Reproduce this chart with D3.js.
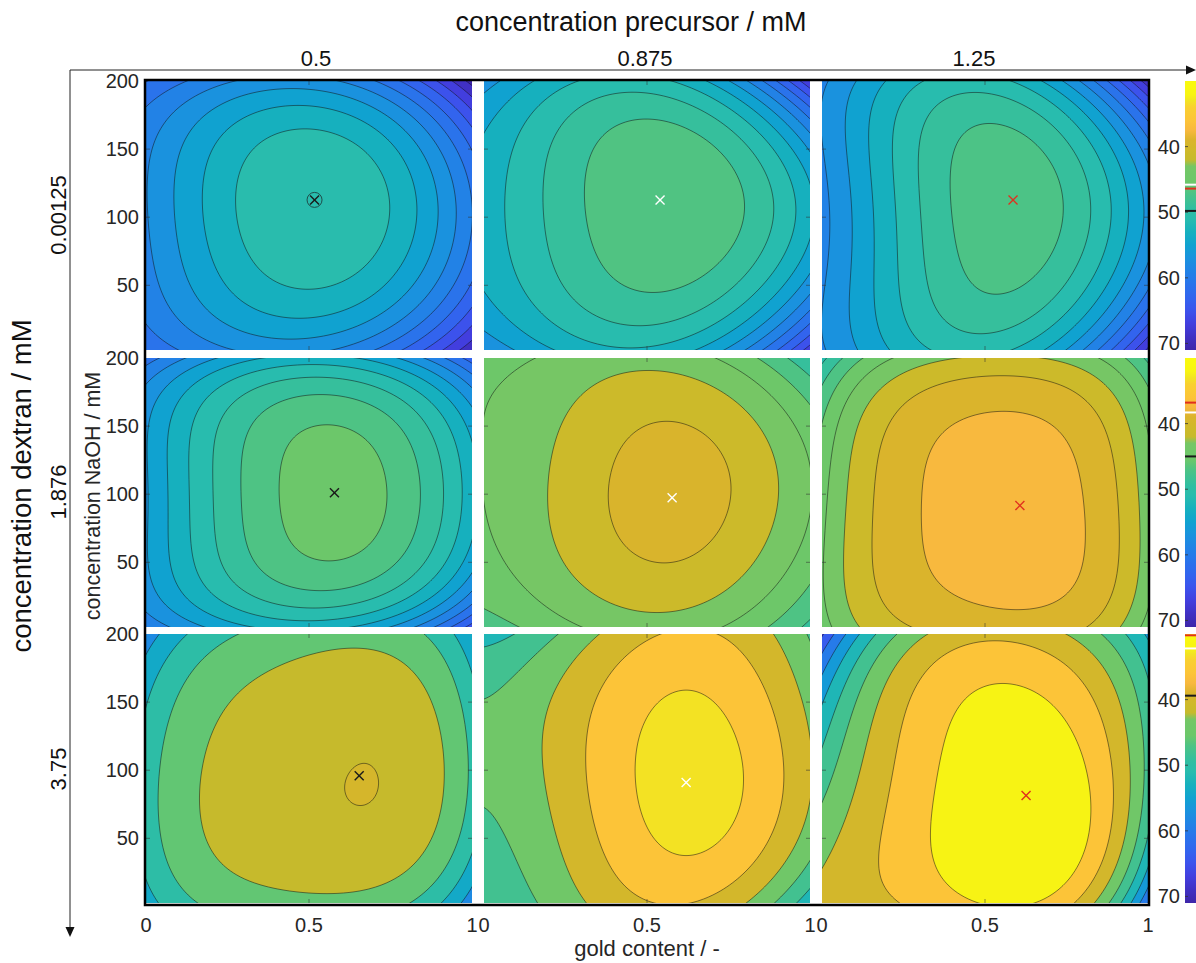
<!DOCTYPE html>
<html><head><meta charset="utf-8">
<script src="https://cdn.jsdelivr.net/npm/d3@7"></script>
<style>body{margin:0;background:#fff} svg{display:block} text{font-family:"Liberation Sans",Arial,sans-serif}</style>
</head><body><svg id="c" width="1196" height="963"></svg>
<script>
// ---------------- data ----------------
const precursorLabels = ["0.5", "0.875", "1.25"];
const dextranLabels = ["0.00125", "1.876", "3.75"];
const goldNodes = [0, 0.25, 0.5, 0.75, 1];
const naohNodes = [0, 50, 100, 150, 200];
// particle size; rows = naohNodes, columns = goldNodes
const size_r1c1 = [[61.5,59.0,57.4,62.0,70.0],[59.0,53.8,51.9,54.0,62.5],[58.2,52.2,50.0,52.1,59.8],[58.5,52.9,51.0,53.7,62.0],[62.0,58.5,57.1,61.0,71.0]];
const size_r1c2 = [[58.0,54.0,52.5,57.0,68.0],[54.0,49.6,48.7,49.2,56.5],[53.0,48.7,45.9,47.6,54.5],[53.5,49.5,47.4,48.6,55.5],[57.0,52.5,51.0,56.0,68.0]];
const size_r1c3 = [[58.5,53.0,51.5,57.0,69.0],[58.2,51.9,48.2,49.6,59.5],[58.3,51.4,46.8,48.1,57.0],[58.2,51.5,47.0,49.2,59.0],[58.5,52.7,51.0,57.0,69.0]];
const size_r2c1 = [[60.0,55.5,53.5,57.0,66.0],[56.2,49.6,47.0,47.5,54.5],[56.0,48.6,44.5,45.9,54.0],[56.5,49.7,46.0,47.2,54.5],[61.0,55.5,53.0,56.0,63.0]];
const size_r2c2 = [[47.5,44.0,43.8,44.0,49.0],[44.3,41.8,41.1,41.0,44.6],[44.0,42.4,39.3,41.4,44.5],[43.8,41.7,40.5,41.2,44.3],[44.5,43.0,43.3,44.0,50.0]];
const size_r2c3 = [[45.0,40.0,39.8,39.5,45.0],[44.5,38.9,36.5,37.6,43.0],[44.5,39.0,36.3,37.2,44.0],[45.5,39.5,38.1,39.2,43.0],[51.0,43.0,42.0,42.0,49.0]];
const size_r3c1 = [[55.0,46.0,45.0,48.0,59.0],[49.5,42.8,41.8,41.3,51.0],[50.0,44.3,41.6,39.6,49.0],[52.0,43.8,41.8,41.3,51.0],[59.0,48.0,45.5,47.0,55.0]];
const size_r3c2 = [[49.0,42.5,39.5,40.0,54.0],[46.5,41.0,35.6,34.8,42.5],[44.5,41.5,31.4,32.6,43.0],[46.0,42.0,33.0,34.7,43.0],[52.0,44.0,39.5,39.0,46.0]];
const size_r3c3 = [[41.0,38.0,35.0,36.0,64.0],[44.0,36.0,31.0,31.8,49.0],[48.0,35.8,31.0,32.5,48.0],[55.0,39.0,32.4,35.5,48.0],[66.0,46.0,38.5,42.0,55.0]];
const optGold = [[0.517,0.54,0.586],[0.578,0.577,0.607],[0.654,0.62,0.626]];
const optNaOH = [[112.7,112.7,112.7],[101,97.4,91.7],[96,91,81.4]];
const optSize = [[49.8,45.8,46.4],[45.0,38.3,36.8],[39.4,32.2,30.2]];
const levelStart = [[52,48,48],[46,40,38],[40,34,34]];
const levelStep = [[2,2,2],[2,2,2],[4,4,4]];
const xTicks = [0, 0.5, 1];
const yTicks = [50, 100, 150, 200];
const cbTicks = [40, 50, 60, 70];
const cbDomain = [30, 71];

const grids = [[size_r1c1,size_r1c2,size_r1c3],[size_r2c1,size_r2c2,size_r2c3],[size_r3c1,size_r3c2,size_r3c3]];

// colour map (parula, reversed: small size = yellow)
const cmapValues = [30, 32, 33, 34, 36, 37.5, 39, 41, 42, 43, 44, 45.5, 47, 49.5, 51, 53, 55, 57, 59, 61, 63, 65, 67, 69, 71];
const cmapColors = ["#f9fa0e","#f8f512","#f2e422","#f9d030","#fcc438","#f8b83e","#dab42c","#ccba2a","#c6ba2c","#76c665","#70c768","#6cc76a","#4ec384","#30bea2","#28bcae","#16b0be","#10a2d0","#1a92de","#2282e6","#2a73eb","#3264ee","#3c52ec","#423ede","#4030c3","#3e26a8"];
const color = d3.scaleLinear().domain(cmapValues).range(cmapColors).interpolate(d3.interpolateRgb).clamp(true);

// ---------------- layout ----------------
const svg = d3.select("#c");
const colLeft = [146, 484, 822], pW = 326;
const rowTop = [81, 358, 634], pH = 269;
const xDomain = [0, 1], yDomain = [2.5, 200];
const pad = 4, cell = 2;
const txt = "#262626";
const markerColors = ["#1a1a1a", "#ffffff", "#e0301e"];
const optWeight = 4;

// smooth surface (least squares, total degree 4) through the read grid values and the optimum
const terms = [];
for (let i = 0; i <= 4; i++) for (let j = 0; j <= 4 - i; j++) terms.push([i, j]);
const nu = gx => 2 * gx - 1, nv = gy => (gy - 100) / 100;
function basis(u, v) { return terms.map(([i, j]) => Math.pow(u, i) * Math.pow(v, j)); }
function fitSurface(G, opt) {
  const n = terms.length;
  const M = d3.range(n).map(() => new Array(n + 1).fill(0));
  const add = (gx, gy, val, w) => {
    const phi = basis(nu(gx), nv(gy));
    for (let p = 0; p < n; p++) {
      for (let q = 0; q < n; q++) M[p][q] += w * phi[p] * phi[q];
      M[p][n] += w * phi[p] * val;
    }
  };
  naohNodes.forEach((gy, a) => goldNodes.forEach((gx, b) => add(gx, gy, G[a][b], 1)));
  add(opt[0], opt[1], opt[2], optWeight);
  for (let col = 0; col < n; col++) {
    let piv = col;
    for (let r = col + 1; r < n; r++) if (Math.abs(M[r][col]) > Math.abs(M[piv][col])) piv = r;
    [M[col], M[piv]] = [M[piv], M[col]];
    for (let r = 0; r < n; r++) if (r !== col) {
      const f = M[r][col] / M[col][col];
      for (let k = col; k <= n; k++) M[r][k] -= f * M[col][k];
    }
  }
  const coef = M.map((row, i) => row[n] / row[i]);
  return (gx, gy) => { const phi = basis(nu(gx), nv(gy)); let s = 0; for (let k = 0; k < phi.length; k++) s += coef[k] * phi[k]; return s; };
}

const defs = svg.append("defs");
const grad = defs.append("linearGradient").attr("id", "cbg").attr("x1", 0).attr("y1", 0).attr("x2", 0).attr("y2", 1);
d3.range(0, 83).forEach(k => {
  const v = cbDomain[0] + (cbDomain[1] - cbDomain[0]) * k / 82;
  grad.append("stop").attr("offset", (k / 82)).attr("stop-color", color(v));
});

for (let r = 0; r < 3; r++) {
  for (let c = 0; c < 3; c++) {
    const x = d3.scaleLinear().domain(xDomain).range([colLeft[c], colLeft[c] + pW]);
    const y = d3.scaleLinear().domain(yDomain).range([rowTop[r] + pH, rowTop[r]]);
    const ox = colLeft[c] - pad, oy = rowTop[r] - pad;
    const nx = Math.ceil((pW + 2 * pad) / cell), ny = Math.ceil((pH + 2 * pad) / cell);
    const f = fitSurface(grids[r][c], [optGold[r][c], optNaOH[r][c], optSize[r][c]]);
    const values = new Float64Array(nx * ny);
    for (let j = 0; j < ny; j++) {
      const gy = y.invert(oy + (j + 0.5) * cell);
      for (let i = 0; i < nx; i++) values[j * nx + i] = f(x.invert(ox + (i + 0.5) * cell), gy);
    }
    const step = levelStep[r][c];
    const levels = d3.range(levelStart[r][c], cbDomain[1] + step, step);
    const contours = d3.contours().size([nx, ny]).thresholds(levels)(values);
    const proj = d3.geoTransform({ point: function (px, py) { this.stream.point(ox + px * cell, oy + py * cell); } });
    const path = d3.geoPath(proj);
    const cid = `clip${r}${c}`;
    defs.append("clipPath").attr("id", cid).append("rect")
      .attr("x", colLeft[c]).attr("y", rowTop[r]).attr("width", pW).attr("height", pH);
    const g = svg.append("g").attr("clip-path", `url(#${cid})`);
    g.append("rect").attr("x", colLeft[c]).attr("y", rowTop[r]).attr("width", pW).attr("height", pH)
      .attr("fill", color((optSize[r][c] + levels[0]) / 2));
    g.selectAll("path").data(contours).join("path")
      .attr("d", path)
      .attr("fill", d => color(d.value + step / 2))
      .attr("stroke", "#111").attr("stroke-opacity", 0.85).attr("stroke-width", 0.6);

    const tk = svg.append("g").attr("stroke", "#333").attr("stroke-width", 0.8).attr("stroke-opacity", 0.7);
    [0.5].forEach(t => {
      tk.append("line").attr("x1", x(t)).attr("x2", x(t)).attr("y1", rowTop[r]).attr("y2", rowTop[r] + 4);
      tk.append("line").attr("x1", x(t)).attr("x2", x(t)).attr("y1", rowTop[r] + pH).attr("y2", rowTop[r] + pH - 4);
    });
    yTicks.filter(t => t < 200).forEach(t => {
      tk.append("line").attr("x1", colLeft[c]).attr("x2", colLeft[c] + 4).attr("y1", y(t)).attr("y2", y(t));
      tk.append("line").attr("x1", colLeft[c] + pW).attr("x2", colLeft[c] + pW - 4).attr("y1", y(t)).attr("y2", y(t));
    });

    const mx = x(optGold[r][c]), my = y(optNaOH[r][c]);
    const mk = svg.append("g").attr("stroke", markerColors[c]).attr("stroke-width", 1.4);
    mk.append("line").attr("x1", mx - 4.5).attr("y1", my - 4.5).attr("x2", mx + 4.5).attr("y2", my + 4.5);
    mk.append("line").attr("x1", mx - 4.5).attr("y1", my + 4.5).attr("x2", mx + 4.5).attr("y2", my - 4.5);
    if (r === 0 && c === 0) {
      svg.append("circle").attr("cx", mx).attr("cy", my).attr("r", 7.5)
        .attr("fill", "none").attr("stroke", "#1d3f3f").attr("stroke-width", 0.9);
    }

    if (c === 0) {
      yTicks.forEach(t => {
        svg.append("text").attr("x", 139).attr("y", y(t)).attr("dy", "0.35em")
          .attr("text-anchor", "end").attr("font-size", 20).attr("fill", txt).text(t);
      });
    }
    if (r === 2) {
      xTicks.forEach(t => {
        svg.append("text").attr("x", x(t)).attr("y", 932).attr("text-anchor", "middle")
          .attr("font-size", 20).attr("fill", txt).text(t);
      });
    }
  }
  const cb = d3.scaleLinear().domain(cbDomain).range([rowTop[r], rowTop[r] + pH]);
  svg.append("rect").attr("x", 1185).attr("y", rowTop[r]).attr("width", 20).attr("height", pH).attr("fill", "url(#cbg)");
  cbTicks.forEach(t => {
    svg.append("line").attr("x1", 1185).attr("x2", 1188).attr("y1", cb(t)).attr("y2", cb(t))
      .attr("stroke", "#333").attr("stroke-width", 0.8);
    svg.append("text").attr("x", 1180).attr("y", cb(t)).attr("dy", "0.35em").attr("text-anchor", "end")
      .attr("font-size", 20).attr("fill", txt).text(t);
  });
  for (let c = 0; c < 3; c++) {
    svg.append("line").attr("x1", 1185).attr("x2", 1196).attr("y1", cb(optSize[r][c])).attr("y2", cb(optSize[r][c]))
      .attr("stroke", markerColors[c]).attr("stroke-width", 2);
  }
}

svg.append("rect").attr("x", 145).attr("y", 80).attr("width", 1004).attr("height", 825)
  .attr("fill", "none").attr("stroke", "#000").attr("stroke-width", 2.5);

svg.append("line").attr("x1", 70).attr("y1", 70).attr("x2", 1187).attr("y2", 70).attr("stroke", "#222").attr("stroke-width", 1);
svg.append("path").attr("d", "M1196,70 L1186,65.5 L1186,74.5 Z").attr("fill", "#111");
svg.append("line").attr("x1", 70).attr("y1", 70).attr("x2", 70).attr("y2", 928).attr("stroke", "#222").attr("stroke-width", 1);
svg.append("path").attr("d", "M70,937 L65.5,927 L74.5,927 Z").attr("fill", "#111");

svg.append("text").attr("x", 631).attr("y", 31).attr("text-anchor", "middle").attr("font-size", 27).attr("fill", "#111")
  .text("concentration precursor / mM");
[316, 645, 974].forEach((px, i) => {
  svg.append("text").attr("x", px).attr("y", 66).attr("text-anchor", "middle").attr("font-size", 22).attr("fill", "#111")
    .text(precursorLabels[i]);
});
svg.append("text").attr("transform", "translate(31,486) rotate(-90)").attr("text-anchor", "middle")
  .attr("font-size", 27.5).attr("fill", "#111").text("concentration dextran / mM");
[215, 492, 769].forEach((py, i) => {
  svg.append("text").attr("transform", `translate(66,${py}) rotate(-90)`).attr("text-anchor", "middle")
    .attr("font-size", 22).attr("fill", "#111").text(dextranLabels[i]);
});
svg.append("text").attr("transform", "translate(100,496) rotate(-90)").attr("text-anchor", "middle")
  .attr("font-size", 21.5).attr("fill", txt).text("concentration NaOH / mM");
svg.append("text").attr("x", 647).attr("y", 956).attr("text-anchor", "middle").attr("font-size", 22).attr("fill", txt)
  .text("gold content / -");
</script></body></html>
